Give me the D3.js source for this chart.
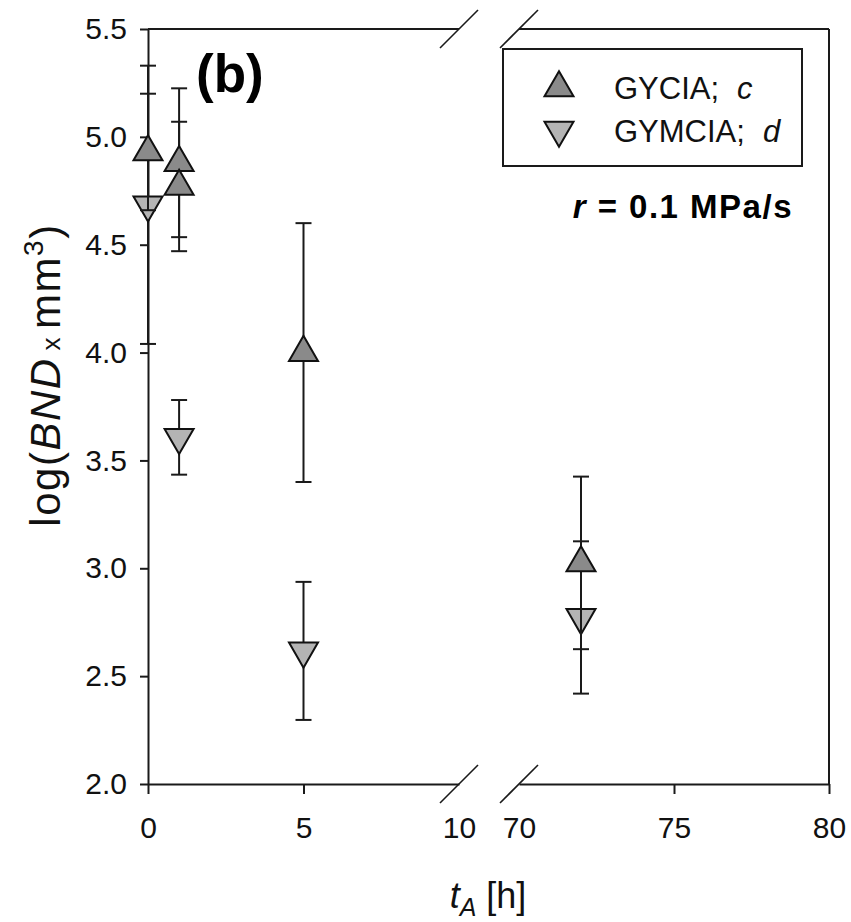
<!DOCTYPE html>
<html>
<head>
<meta charset="utf-8">
<script src="https://cdn.jsdelivr.net/npm/d3@7"></script>
<style>
  body { margin: 0; background: #fff; }
  svg { display: block; font-family: "Liberation Sans", Arial, sans-serif; }
</style>
</head>
<body>
<div id="chart"></div>
<script>
// data
var gyciaTime = [0, 1, 1, 5, 72];
var gyciaMean = [4.93, 4.88, 4.77, 4.00, 3.025];
var gyciaErr  = [0.27, 0.345, 0.30, 0.60, 0.40];

var gymciaTime = [0, 1, 5, 72];
var gymciaMean = [4.685, 3.607, 2.617, 2.772];
var gymciaErr  = [0.645, 0.173, 0.32, 0.353];

var yTicks = [2.0, 2.5, 3.0, 3.5, 4.0, 4.5, 5.0, 5.5];
var xTicksLeft = [0, 5, 10];
var xTicksRight = [70, 75, 80];
var legendLabels = ["GYCIA;", "GYMCIA;"];
var legendLetters = ["c", "d"];

var width = 851, height = 922;
var plotLeft = 148, plotRight = 829, plotTop = 29, plotBottom = 784;
var breakL = 459, breakR = 519;

var svg = d3.select("#chart").append("svg")
    .attr("width", width)
    .attr("height", height);

var xLeft = d3.scaleLinear().domain([0, 10]).range([plotLeft, breakL]);
var xRight = d3.scaleLinear().domain([70, 80]).range([breakR, plotRight]);
var y = d3.scaleLinear().domain([2, 5.5]).range([plotBottom, plotTop]);

function xPos(t) { return t <= 10 ? xLeft(t) : xRight(t); }

var axisColor = "#1a1a1a";

// y axis
var yAxis = svg.append("g")
    .attr("transform", "translate(" + plotLeft + ",0)")
    .call(d3.axisLeft(y).tickValues(yTicks).tickFormat(d3.format(".1f")).tickSize(8).tickSizeOuter(0));
yAxis.select(".domain").attr("stroke", axisColor).attr("stroke-width", 2);
yAxis.selectAll(".tick line").attr("stroke", axisColor).attr("stroke-width", 2);
yAxis.selectAll(".tick text")
    .attr("x", -21)
    .attr("font-size", 30)
    .attr("font-family", "Liberation Sans, Arial, sans-serif")
    .attr("fill", "#111");

// x axis, two segments
function drawX(scale, ticks, hidden) {
  var g = svg.append("g")
      .attr("transform", "translate(0," + plotBottom + ")")
      .call(d3.axisBottom(scale).tickValues(ticks).tickFormat(d3.format("d")).tickSize(10).tickSizeOuter(0));
  g.select(".domain").attr("stroke", axisColor).attr("stroke-width", 2);
  g.selectAll(".tick line").attr("stroke", axisColor).attr("stroke-width", 2)
      .attr("display", function(d) { return d === hidden ? "none" : null; });
  g.selectAll(".tick text")
      .attr("y", 0)
      .attr("dy", 54)
      .attr("font-size", 30)
      .attr("font-family", "Liberation Sans, Arial, sans-serif")
      .attr("fill", "#111");
  return g;
}
drawX(xLeft, xTicksLeft, 10);
drawX(xRight, xTicksRight, 70);

// frame: top and right
svg.append("line").attr("x1", plotLeft).attr("x2", breakL).attr("y1", plotTop).attr("y2", plotTop)
    .attr("stroke", axisColor).attr("stroke-width", 2);
svg.append("line").attr("x1", breakR).attr("x2", plotRight).attr("y1", plotTop).attr("y2", plotTop)
    .attr("stroke", axisColor).attr("stroke-width", 2);
svg.append("line").attr("x1", plotRight).attr("x2", plotRight).attr("y1", plotTop).attr("y2", plotBottom)
    .attr("stroke", axisColor).attr("stroke-width", 2);

// break marks
[breakL, breakR].forEach(function(bx) {
  [plotTop, plotBottom].forEach(function(by) {
    svg.append("line")
        .attr("x1", bx - 19).attr("y1", by + 19)
        .attr("x2", bx + 19).attr("y2", by - 19)
        .attr("stroke", axisColor).attr("stroke-width", 1.6);
  });
});

var triUp = d3.symbol().type(d3.symbolTriangle).size(364);
var darkFill = "#8a8a8a", lightFill = "#b4b4b4";

function drawSeries(times, means, errs, fill, down) {
  var g = svg.append("g");
  var pts = times.map(function(t, i) { return {t: t, m: means[i], e: errs[i]}; });
  var bars = g.selectAll(".bar").data(pts).join("g");
  bars.append("line")
      .attr("x1", d => xPos(d.t)).attr("x2", d => xPos(d.t))
      .attr("y1", d => y(d.m + d.e)).attr("y2", d => y(d.m - d.e))
      .attr("stroke", axisColor).attr("stroke-width", 2);
  [1, -1].forEach(function(s) {
    bars.append("line")
        .attr("x1", d => xPos(d.t) - 8).attr("x2", d => xPos(d.t) + 8)
        .attr("y1", d => y(d.m + s * d.e)).attr("y2", d => y(d.m + s * d.e))
        .attr("stroke", axisColor).attr("stroke-width", 2);
  });
  g.selectAll(".pt").data(pts).join("path")
      .attr("d", triUp)
      .attr("transform", d => "translate(" + xPos(d.t) + "," + y(d.m) + ")" + (down ? " rotate(180)" : ""))
      .attr("fill", fill)
      .attr("stroke", "#111")
      .attr("stroke-width", 2);
}
drawSeries(gymciaTime, gymciaMean, gymciaErr, lightFill, true);
drawSeries(gyciaTime, gyciaMean, gyciaErr, darkFill, false);

// panel label
svg.append("text")
    .attr("x", 196).attr("y", 92)
    .attr("font-size", 53)
    .attr("font-weight", "bold")
    .attr("fill", "#000")
    .text("(b)");

// legend
var lg = svg.append("g");
lg.append("rect")
    .attr("x", 503).attr("y", 49).attr("width", 299).attr("height", 117)
    .attr("fill", "#fff").attr("stroke", axisColor).attr("stroke-width", 2);
var legFills = [darkFill, lightFill];
var legY = [88, 130];
legendLabels.forEach(function(lab, i) {
  lg.append("path")
      .attr("d", triUp)
      .attr("transform", "translate(559," + legY[i] + ")" + (i === 1 ? " rotate(180)" : ""))
      .attr("fill", legFills[i]).attr("stroke", "#111").attr("stroke-width", 2);
  var t = lg.append("text")
      .attr("x", 614).attr("y", i === 0 ? 99 : 142)
      .attr("font-size", 31)
      .attr("fill", "#111");
  t.append("tspan").text(lab);
  t.append("tspan").attr("dx", 18).attr("font-style", "italic").text(legendLetters[i]);
});

// rate annotation
var rt = svg.append("text")
    .attr("x", 793).attr("y", 218)
    .attr("text-anchor", "end")
    .attr("font-size", 33)
    .attr("font-weight", "bold")
    .attr("letter-spacing", 1.5)
    .attr("fill", "#000");
rt.append("tspan").attr("font-style", "italic").text("r");
rt.append("tspan").text(" = 0.1 MPa/s");

// y title
var yt = svg.append("text")
    .attr("transform", "translate(60,375) rotate(-90)")
    .attr("text-anchor", "middle")
    .attr("font-size", 42)
    .attr("letter-spacing", 1.5)
    .attr("fill", "#111");
yt.append("tspan").text("log(");
yt.append("tspan").attr("font-style", "italic").text("BND");
yt.append("tspan").attr("font-size", 26).attr("dx", 7).text("x");
yt.append("tspan").attr("dx", 7).text("mm");
yt.append("tspan").attr("font-size", 28).attr("dy", -17).text("3");
yt.append("tspan").attr("dy", 17).text(")");

// x title
var xt = svg.append("text")
    .attr("x", 488).attr("y", 908)
    .attr("text-anchor", "middle")
    .attr("font-size", 36)
    .attr("fill", "#111");
xt.append("tspan").attr("font-style", "italic").text("t");
xt.append("tspan").attr("font-style", "italic").attr("font-size", 25).attr("dy", 8).text("A");
xt.append("tspan").attr("dy", -8).text(" [h]");
</script>
</body>
</html>
